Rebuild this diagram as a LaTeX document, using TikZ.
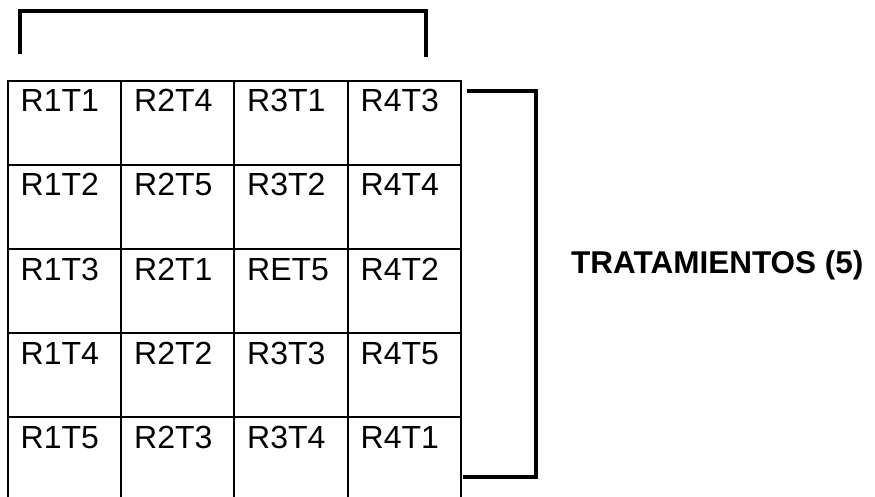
\documentclass[tikz,border=0pt]{standalone}
\usepackage{fontspec}
\setmainfont{Liberation Sans}
\usetikzlibrary{positioning}

\begin{document}
\begin{tikzpicture}[x=1pt,y=-1pt,
  cell/.style={anchor=base west,inner sep=0pt,font=\fontsize{32}{38}\selectfont},
  gridline/.style={line width=2pt},
  bracket/.style={line width=4pt}]
  \useasboundingbox (0,0) rectangle (875,497);
  % Grid (open at the bottom)
  \foreach \x in {7.5,121,234,347.5,461}
    \draw[gridline] (\x,80) -- (\x,497);
  \foreach \y in {81,165,249,333,417}
    \draw[gridline] (6.5,\y) -- (462,\y);
  % Plots
  \foreach \a/\b/\c/\d [count=\r from 0] in
    {R1T1/R2T4/R3T1/R4T3, R1T2/R2T5/R3T2/R4T4, R1T3/R2T1/RET5/R4T2,
     R1T4/R2T2/R3T3/R4T5, R1T5/R2T3/R3T4/R4T1}{
    \node[cell] (c\r-1) at (20.5,112+84*\r) {\a};
    \node[cell] (c\r-2) at (134,112+84*\r) {\b};
    \node[cell] (c\r-3) at (247,112+84*\r) {\c};
    \node[cell] (c\r-4) at (360.5,112+84*\r) {\d};
  }
  % Top bracket
  \draw[bracket] (20,54) |- (426,11.5) -- (426,57);
  % Right bracket
  \draw[bracket] (467,91) -| (536,477) -- (463,477);
  \node[cell,font=\fontsize{31.5}{37}\selectfont\bfseries] (trat) at (571,273.5) {TRATAMIENTOS (5)};
\end{tikzpicture}
\end{document}
